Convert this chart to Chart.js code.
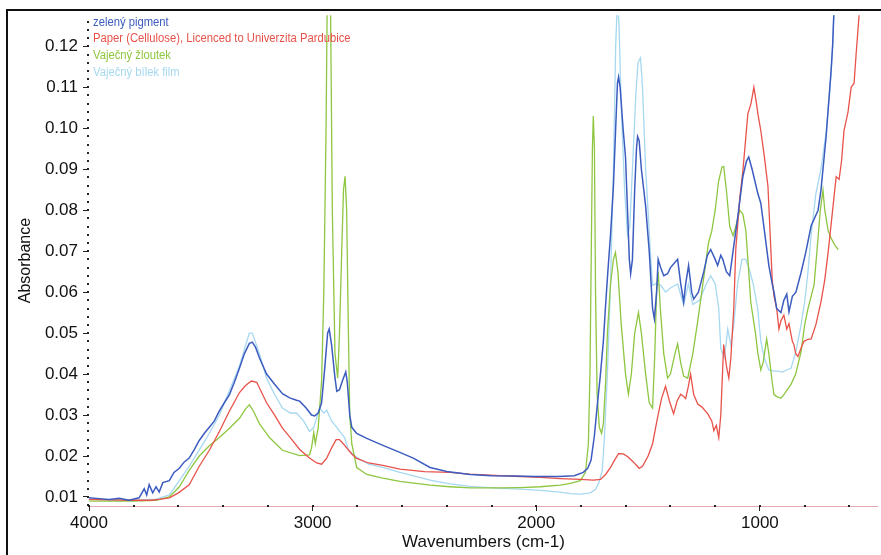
<!DOCTYPE html>
<html><head><meta charset="utf-8">
<script src="https://cdn.jsdelivr.net/npm/chart.js@4/dist/chart.umd.min.js"></script>
<style>html,body{margin:0;padding:0;background:#fff;overflow:hidden}</style>
</head><body>
<canvas id="c" width="881" height="555"></canvas>
<script>
const seriesNames = ["zelený pigment", "Paper (Cellulose), Licenced to Univerzita Pardubice", "Vaječný žloutek", "Vaječný bílek film"];
const seriesColors = ["#3c5cbf", "#e8524a", "#8ec641", "#a6d8f0"];
const xTickValues = [4000, 3000, 2000, 1000];
const yTickValues = [0.01, 0.02, 0.03, 0.04, 0.05, 0.06, 0.07, 0.08, 0.09, 0.10, 0.11, 0.12];

// zelený pigment
const blueWn = [4000,3955,3910,3865,3821,3776,3753,3742,3731,3715,3700,3686,3670,3641,3620,3596,3575,3552,3530,3507,3485,3462,3440,3417,3395,3372,3350,3327,3305,3283,3270,3255,3238,3206,3170,3135,3103,3072,3058,3030,3005,2991,2975,2960,2945,2933,2926,2915,2900,2892,2880,2866,2852,2845,2834,2825,2803,2758,2686,2610,2550,2475,2400,2296,2200,2100,2000,1900,1830,1790,1770,1755,1740,1728,1713,1700,1691,1680,1668,1655,1645,1637,1632,1625,1612,1601,1592,1584,1578,1570,1560,1552,1547,1540,1530,1511,1495,1480,1472,1462,1455,1444,1430,1413,1400,1368,1354,1341,1332,1319,1305,1296,1275,1251,1235,1220,1200,1189,1175,1166,1150,1135,1120,1100,1076,1060,1050,1035,1009,996,980,960,945,937,925,906,893,880,870,855,839,816,795,771,740,727,704,690,682,675,668,660];
const blueAbs = [0.0098,0.0096,0.0094,0.0097,0.0092,0.0098,0.0120,0.0105,0.0130,0.0110,0.0125,0.0112,0.0135,0.0140,0.0160,0.0170,0.0185,0.0195,0.0215,0.0238,0.0255,0.0270,0.0285,0.0310,0.0330,0.0350,0.0380,0.0415,0.0450,0.0475,0.0478,0.0465,0.0440,0.0400,0.0375,0.0352,0.0342,0.0336,0.0334,0.0318,0.0300,0.0298,0.0305,0.0330,0.0420,0.0500,0.0510,0.0470,0.0390,0.0358,0.0362,0.0385,0.0405,0.0380,0.0300,0.0270,0.0255,0.0243,0.0226,0.0209,0.0195,0.0172,0.0162,0.0155,0.0152,0.0151,0.0150,0.0150,0.0152,0.0160,0.0170,0.0190,0.0250,0.0320,0.0400,0.0480,0.0560,0.0650,0.0740,0.0860,0.1000,0.1110,0.1125,0.1100,0.1000,0.0930,0.0800,0.0680,0.0645,0.0680,0.0850,0.0950,0.0980,0.0970,0.0900,0.0810,0.0700,0.0560,0.0535,0.0600,0.0680,0.0660,0.0640,0.0645,0.0660,0.0680,0.0620,0.0576,0.0620,0.0665,0.0600,0.0583,0.0600,0.0650,0.0690,0.0704,0.0680,0.0665,0.0690,0.0680,0.0650,0.0640,0.0700,0.0780,0.0883,0.0920,0.0930,0.0900,0.0840,0.0817,0.0750,0.0665,0.0620,0.0600,0.0560,0.0550,0.0580,0.0595,0.0552,0.0590,0.0600,0.0648,0.0697,0.0762,0.0800,0.0849,0.0980,0.1080,0.1139,0.1200,0.1300,0.1400];

// Paper (Cellulose)
const redWn = [4000,3900,3800,3720,3686,3641,3600,3552,3507,3462,3417,3372,3327,3300,3274,3250,3206,3170,3135,3100,3058,3014,2982,2960,2937,2915,2895,2880,2860,2848,2825,2803,2750,2686,2610,2500,2386,2300,2161,2072,1982,1893,1803,1745,1713,1690,1668,1650,1632,1610,1588,1565,1540,1525,1500,1480,1458,1440,1422,1405,1386,1370,1354,1340,1332,1320,1310,1296,1278,1260,1233,1215,1206,1195,1184,1175,1162,1150,1139,1130,1117,1108,1090,1076,1054,1040,1027,1018,1009,996,980,964,945,937,925,915,906,893,880,870,855,848,840,830,815,803,785,771,750,727,710,695,673,659,646,635,624,606,592,579,570,556,545];
const redAbs = [0.0094,0.0093,0.0092,0.0092,0.0094,0.0098,0.0110,0.0130,0.0175,0.0214,0.0260,0.0310,0.0355,0.0372,0.0383,0.0380,0.0330,0.0300,0.0268,0.0245,0.0216,0.0195,0.0183,0.0180,0.0195,0.0220,0.0240,0.0240,0.0228,0.0220,0.0205,0.0194,0.0183,0.0177,0.0168,0.0162,0.0160,0.0156,0.0152,0.0150,0.0148,0.0145,0.0143,0.0141,0.0143,0.0155,0.0172,0.0190,0.0206,0.0205,0.0197,0.0185,0.0170,0.0175,0.0200,0.0230,0.0293,0.0340,0.0370,0.0335,0.0303,0.0335,0.0351,0.0345,0.0340,0.0370,0.0400,0.0350,0.0327,0.0320,0.0303,0.0285,0.0262,0.0275,0.0245,0.0300,0.0472,0.0420,0.0390,0.0440,0.0559,0.0704,0.0830,0.0897,0.1035,0.1060,0.1100,0.1070,0.1035,0.0994,0.0930,0.0858,0.0630,0.0590,0.0560,0.0510,0.0530,0.0544,0.0510,0.0523,0.0480,0.0472,0.0450,0.0443,0.0465,0.0480,0.0485,0.0486,0.0520,0.0576,0.0630,0.0697,0.0810,0.0882,0.0875,0.0920,0.0994,0.1040,0.1100,0.1110,0.1180,0.1280,0.1400];

// Vaječný žloutek
const greenWn = [4000,3900,3800,3700,3641,3596,3552,3507,3462,3417,3372,3327,3300,3283,3265,3238,3193,3135,3058,3014,3005,2995,2988,2975,2960,2950,2940,2935,2928,2920,2912,2900,2888,2880,2870,2862,2855,2848,2840,2834,2825,2803,2758,2686,2610,2475,2386,2296,2161,2072,1982,1893,1848,1803,1780,1767,1760,1754,1749,1745,1740,1735,1728,1718,1708,1700,1690,1682,1668,1655,1646,1635,1620,1601,1588,1575,1560,1543,1530,1511,1495,1480,1470,1462,1455,1444,1430,1413,1400,1380,1368,1355,1341,1323,1300,1278,1260,1240,1230,1215,1200,1185,1170,1162,1150,1135,1120,1108,1090,1076,1063,1050,1041,1020,1009,996,985,970,960,945,937,925,906,893,880,861,840,816,800,785,758,745,730,718,710,695,680,665,650];
const greenAbs = [0.0090,0.0090,0.0090,0.0092,0.0100,0.0125,0.0165,0.0200,0.0225,0.0245,0.0268,0.0292,0.0315,0.0325,0.0310,0.0279,0.0245,0.0214,0.0201,0.0203,0.0220,0.0257,0.0230,0.0270,0.0383,0.0600,0.1000,0.1300,0.1450,0.1300,0.0800,0.0450,0.0390,0.0500,0.0700,0.0850,0.0883,0.0800,0.0500,0.0300,0.0230,0.0172,0.0155,0.0146,0.0138,0.0129,0.0125,0.0122,0.0122,0.0123,0.0125,0.0129,0.0133,0.0140,0.0160,0.0230,0.0400,0.0700,0.0950,0.1030,0.0950,0.0600,0.0350,0.0270,0.0255,0.0280,0.0380,0.0500,0.0620,0.0680,0.0697,0.0650,0.0520,0.0400,0.0351,0.0400,0.0500,0.0550,0.0500,0.0400,0.0330,0.0317,0.0450,0.0600,0.0650,0.0550,0.0450,0.0390,0.0400,0.0450,0.0474,0.0430,0.0395,0.0390,0.0450,0.0530,0.0600,0.0680,0.0720,0.0750,0.0800,0.0870,0.0905,0.0907,0.0850,0.0760,0.0738,0.0760,0.0800,0.0790,0.0750,0.0650,0.0576,0.0500,0.0450,0.0410,0.0430,0.0486,0.0450,0.0380,0.0350,0.0345,0.0341,0.0350,0.0360,0.0375,0.0400,0.0455,0.0520,0.0560,0.0617,0.0700,0.0800,0.0849,0.0800,0.0750,0.0730,0.0715,0.0704];

// Vaječný bílek film
const lblueWn = [4000,3900,3800,3700,3641,3596,3552,3507,3462,3417,3372,3327,3300,3283,3270,3238,3206,3170,3135,3100,3072,3040,3014,2995,2969,2950,2937,2915,2892,2879,2857,2840,2803,2750,2686,2610,2475,2386,2296,2161,2072,1982,1893,1848,1803,1758,1736,1720,1705,1695,1682,1668,1655,1645,1637,1630,1620,1605,1592,1582,1570,1555,1545,1534,1525,1511,1502,1490,1480,1467,1444,1422,1400,1368,1341,1320,1300,1270,1240,1220,1200,1184,1175,1160,1150,1144,1130,1117,1100,1080,1063,1050,1030,1010,996,980,960,937,919,900,880,861,839,816,800,785,771,750,727,704,690,682,675,668,660];
const lblueAbs = [0.0095,0.0093,0.0092,0.0095,0.0105,0.0140,0.0175,0.0215,0.0255,0.0300,0.0360,0.0420,0.0470,0.0500,0.0500,0.0450,0.0390,0.0350,0.0317,0.0305,0.0305,0.0285,0.0260,0.0270,0.0317,0.0305,0.0312,0.0285,0.0270,0.0260,0.0245,0.0215,0.0197,0.0180,0.0172,0.0160,0.0141,0.0132,0.0126,0.0121,0.0119,0.0116,0.0112,0.0108,0.0107,0.0110,0.0118,0.0135,0.0165,0.0250,0.0400,0.0620,0.0900,0.1200,0.1320,0.1250,0.1050,0.0850,0.0740,0.0760,0.0900,0.1080,0.1160,0.1172,0.1100,0.0900,0.0817,0.0700,0.0617,0.0620,0.0617,0.0600,0.0610,0.0620,0.0569,0.0620,0.0570,0.0580,0.0620,0.0640,0.0620,0.0560,0.0462,0.0440,0.0480,0.0510,0.0470,0.0520,0.0620,0.0680,0.0680,0.0660,0.0620,0.0560,0.0480,0.0438,0.0410,0.0407,0.0407,0.0405,0.0410,0.0414,0.0455,0.0520,0.0576,0.0650,0.0740,0.0840,0.0900,0.0990,0.1080,0.1130,0.1200,0.1300,0.1400];

const FONT = "'Liberation Sans', Arial, sans-serif";
const toPts = (xs, ys) => xs.map((x, i) => ({x: x, y: ys[i]}));
const seriesData = [toPts(blueWn, blueAbs), toPts(redWn, redAbs), toPts(greenWn, greenAbs), toPts(lblueWn, lblueAbs)];

const decor = {
  id: 'decor',
  beforeDraw(chart) {
    const ctx = chart.ctx;
    ctx.save(); ctx.fillStyle = '#ffffff'; ctx.fillRect(0, 0, chart.width, chart.height); ctx.restore();
  },
  afterDraw(chart) {
    const ctx = chart.ctx, a = chart.chartArea, xs = chart.scales.x, ys = chart.scales.y;
    ctx.save();
    // x axis line (pinkish) and minor dots
    ctx.strokeStyle = '#e2aab0'; ctx.lineWidth = 1;
    ctx.beginPath(); ctx.moveTo(a.left, a.bottom + 0.5); ctx.lineTo(a.right, a.bottom + 0.5); ctx.stroke();
    ctx.fillStyle = '#222';
    for (let w = 4000; w >= 600; w -= 200) { const px = Math.round(xs.getPixelForValue(w)); ctx.fillRect(px - 1, a.bottom - 1, 2, 2); }
    // y axis dotted minor ticks
    for (let v = 0.008; v <= 0.1275; v += 0.002) { const py = Math.round(ys.getPixelForValue(v)); ctx.fillRect(a.left - 2, py - 1, 2, 2); }
    // outer frame
    ctx.strokeStyle = '#111'; ctx.lineWidth = 2;
    ctx.beginPath(); ctx.moveTo(7, 555); ctx.lineTo(7, 10); ctx.lineTo(881, 10); ctx.stroke();
    // legend (condensed text)
    ctx.font = "12.5px " + FONT; ctx.textBaseline = 'middle'; ctx.textAlign = 'left';
    const ly = [23, 39, 56, 73];
    chart.data.datasets.forEach((ds, i) => {
      ctx.save(); ctx.translate(93, ly[i]); ctx.scale(0.9, 1);
      ctx.fillStyle = ds.borderColor; ctx.fillText(ds.label, 0, 0);
      ctx.restore();
    });
    ctx.restore();
  }
};

new Chart(document.getElementById('c'), {
  type: 'line',
  data: {
    datasets: seriesNames.map((n, i) => ({
      label: n, data: seriesData[i], borderColor: seriesColors[i], backgroundColor: seriesColors[i],
      borderWidth: i === 0 ? 1.5 : 1.3, pointRadius: 0, tension: 0, fill: false
    }))
  },
  options: {
    responsive: false, animation: false, devicePixelRatio: 1,
    layout: {padding: {top: 10, right: 3, left: 0, bottom: 0}},
    plugins: {legend: {display: false}, tooltip: {enabled: false}},
    scales: {
      x: {
        type: 'linear', reverse: true, min: 472, max: 4000,
        afterBuildTicks: s => { s.ticks = xTickValues.map(v => ({value: v})); },
        afterFit: s => { s.height = 49; },
        ticks: {font: {family: FONT, size: 17}, color: '#111', padding: 2, maxRotation: 0, autoSkip: false, callback: v => String(v)},
        grid: {drawOnChartArea: false, drawTicks: true, tickLength: 5, color: '#222'},
        border: {display: false},
        title: {display: true, text: 'Wavenumbers (cm-1)', font: {family: FONT, size: 17}, color: '#111', padding: {top: 0, bottom: 2}}
      },
      y: {
        min: 0.0078, max: 0.1276,
        afterBuildTicks: s => { s.ticks = yTickValues.map(v => ({value: v})); },
        afterFit: s => { s.width = 89; },
        ticks: {font: {family: FONT, size: 17}, color: '#111', padding: 5, callback: v => v.toFixed(2)},
        grid: {drawOnChartArea: false, drawTicks: true, tickLength: 6, color: '#222'},
        border: {display: false},
        title: {display: true, text: 'Absorbance', font: {family: FONT, size: 16}, color: '#111', padding: {top: 16, bottom: 0}}
      }
    }
  },
  plugins: [decor]
});
</script>
</body></html>
